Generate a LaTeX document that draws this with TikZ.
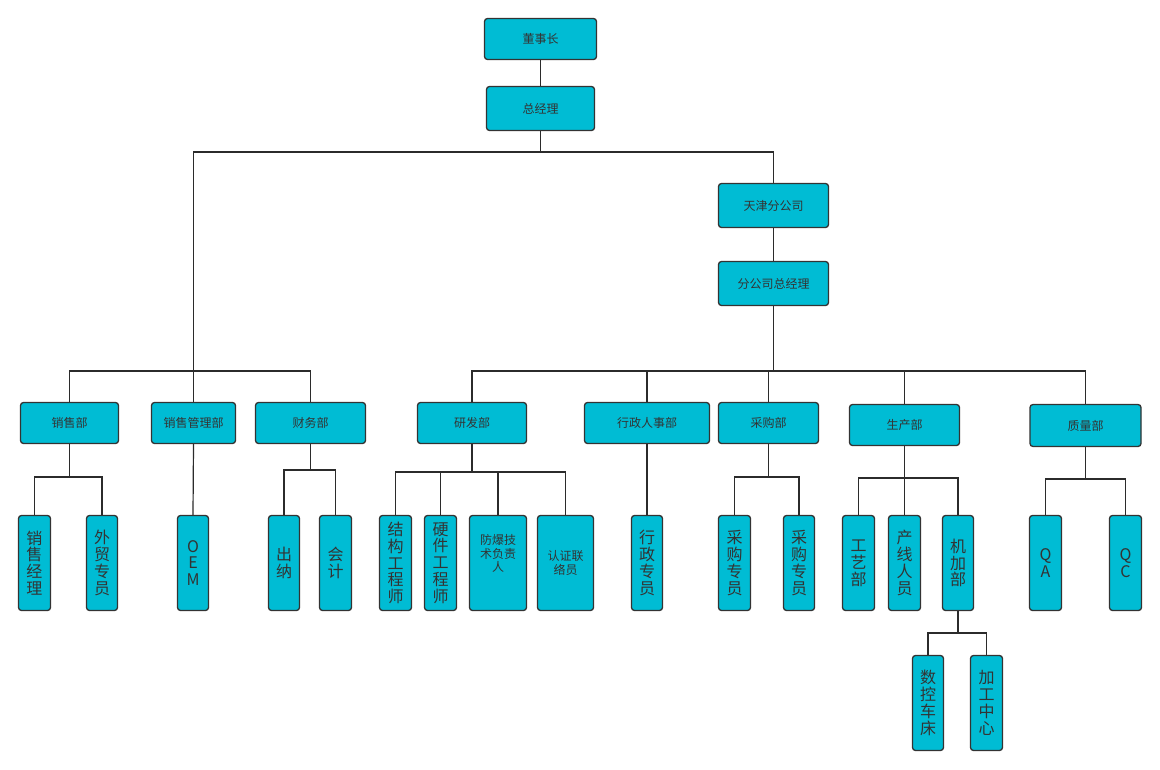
\documentclass[tikz,border=0pt]{standalone}
\usepackage{fontspec}
\setmainfont{Noto Sans CJK SC}
\definecolor{cyanfill}{HTML}{00BCD4}
\definecolor{boxline}{HTML}{333333}
\definecolor{txt}{HTML}{333333}
\definecolor{linec}{HTML}{2B2B2B}
\begin{document}
\begin{tikzpicture}[x=1pt,y=-1pt,
  box/.style={draw=boxline, fill=cyanfill, rounded corners=3pt, line width=1.3pt, inner sep=0pt,
    text=txt, font=\fontsize{12}{13.5}\selectfont, align=center},
  vt/.style={box, minimum height=95pt, font=\fontsize{16}{16.8}\selectfont},
  conn/.style={draw=linec, line width=1.2pt}]
\useasboundingbox[fill=white] (0,0) rectangle (1160,769);
% top
\node[box, minimum width=112pt, minimum height=41pt] (dsz) at (540.5,39) {董事长};
\node[box, minimum width=108pt, minimum height=44pt] (zjl) at (540.5,108.5) {总经理};
\node[box, minimum width=110pt, minimum height=44pt] (tj) at (773.5,205.5) {天津分公司};
\node[box, minimum width=110pt, minimum height=44pt] (fzj) at (773.5,283.5) {分公司总经理};
% row 2
\node[box, minimum width=98pt, minimum height=41pt] (xs) at (69.5,423) {销售部};
\node[box, minimum width=84pt, minimum height=41pt] (xsgl) at (193.5,423) {销售管理部};
\node[box, minimum width=110pt, minimum height=41pt] (cw) at (310.5,423) {财务部};
\node[box, minimum width=109pt, minimum height=41pt] (yf) at (472,423) {研发部};
\node[box, minimum width=125pt, minimum height=41pt] (xz) at (647,423) {行政人事部};
\node[box, minimum width=100pt, minimum height=41pt] (cg) at (768.5,423) {采购部};
\node[box, minimum width=110pt, minimum height=41pt] (sc) at (904.5,425) {生产部};
\node[box, minimum width=111pt, minimum height=42pt] (zl) at (1085.5,425.5) {质量部};
% row 3
\node[vt, minimum width=32pt] (xsjl) at (34.5,563) {销\\售\\经\\理};
\node[vt, minimum width=31pt] (wm) at (102,563) {外\\贸\\专\\员};
\node[vt, minimum width=31pt] (oem) at (193,563) {O\\E\\M};
\node[vt, minimum width=31pt] (cn) at (284,563) {出\\纳};
\node[vt, minimum width=32pt] (kj) at (335.5,563) {会\\计};
\node[vt, minimum width=32pt] (jg) at (395.5,563) {结\\构\\工\\程\\师};
\node[vt, minimum width=32pt] (yj) at (440.5,563) {硬\\件\\工\\程\\师};
\node[box, minimum width=57pt, minimum height=95pt] (fb) at (498,563) {防爆技\\术负责\\人\\[6pt]\mbox{}};
\node[box, minimum width=56pt, minimum height=95pt] (rz) at (565.5,563) {认证联\\络员};
\node[vt, minimum width=31pt] (xzzy) at (647,563) {行\\政\\专\\员};
\node[vt, minimum width=32pt] (cg1) at (734.5,563) {采\\购\\专\\员};
\node[vt, minimum width=31pt] (cg2) at (799,563) {采\\购\\专\\员};
\node[vt, minimum width=32pt] (gy) at (858.5,563) {工\\艺\\部};
\node[vt, minimum width=32pt] (cx) at (904.5,563) {产\\线\\人\\员};
\node[vt, minimum width=31pt] (jj) at (958,563) {机\\加\\部};
\node[vt, minimum width=32pt] (qa) at (1045.5,563) {Q\\A};
\node[vt, minimum width=32pt] (qc) at (1125.5,563) {Q\\C};
% row 4
\node[vt, minimum width=31pt] (sk) at (928,703) {数\\控\\车\\床};
\node[vt, minimum width=32pt] (jgzx) at (986.5,703) {加\\工\\中\\心};
% connectors top
\draw[conn] (dsz.south) -- (zjl.north);
\draw[conn] (zjl.south) |- (xsgl.north |- 0,152) -- (xsgl.north);
\draw[conn] (zjl.south) |- (tj.north |- 0,152) -- (tj.north);
\draw[conn] (tj.south) -- (fzj.north);
% left bus
\draw[conn] (xs.north) |- (cw.north |- 0,371) -- (cw.north);
% right bus
\draw[conn] (fzj.south) -- (fzj.south |- 0,371);
\draw[conn] (yf.north) |- (zl.north |- 0,371) -- (zl.north);
\draw[conn] (xz.north) -- (xz.north |- 0,371);
\draw[conn] (cg.north) -- (cg.north |- 0,371);
\draw[conn] (sc.north) -- (sc.north |- 0,371);
% 销售部
\draw[conn] (xs.south) -- (xs.south |- 0,477);
\draw[conn] (xsjl.north) |- (wm.north |- 0,477) -- (wm.north);
% 销售管理部
\draw[conn] (xsgl.south) -- (oem.north);
% 财务部
\draw[conn] (cw.south) -- (cw.south |- 0,470);
\draw[conn] (cn.north) |- (kj.north |- 0,470) -- (kj.north);
% 研发部
\draw[conn] (yf.south) -- (yf.south |- 0,472);
\draw[conn] (jg.north) |- (rz.north |- 0,472) -- (rz.north);
\draw[conn] (yj.north) -- (yj.north |- 0,472);
\draw[conn] (fb.north) -- (fb.north |- 0,472);
% 行政人事部
\draw[conn] (xz.south) -- (xzzy.north);
% 采购部
\draw[conn] (cg.south) -- (cg.south |- 0,477);
\draw[conn] (cg1.north) |- (cg2.north |- 0,477) -- (cg2.north);
% 生产部
\draw[conn] (sc.south) -- (sc.south |- 0,478);
\draw[conn] (gy.north) |- (jj.north |- 0,478) -- (jj.north);
\draw[conn] (cx.north) -- (cx.north |- 0,478);
% 机加部
\draw[conn] (jj.south) -- (jj.south |- 0,633);
\draw[conn] (sk.north) |- (jgzx.north |- 0,633) -- (jgzx.north);
% 质量部
\draw[conn] (zl.south) -- (zl.south |- 0,479);
\draw[conn] (qa.north) |- (qc.north |- 0,479) -- (qc.north);
\end{tikzpicture}
\end{document}
